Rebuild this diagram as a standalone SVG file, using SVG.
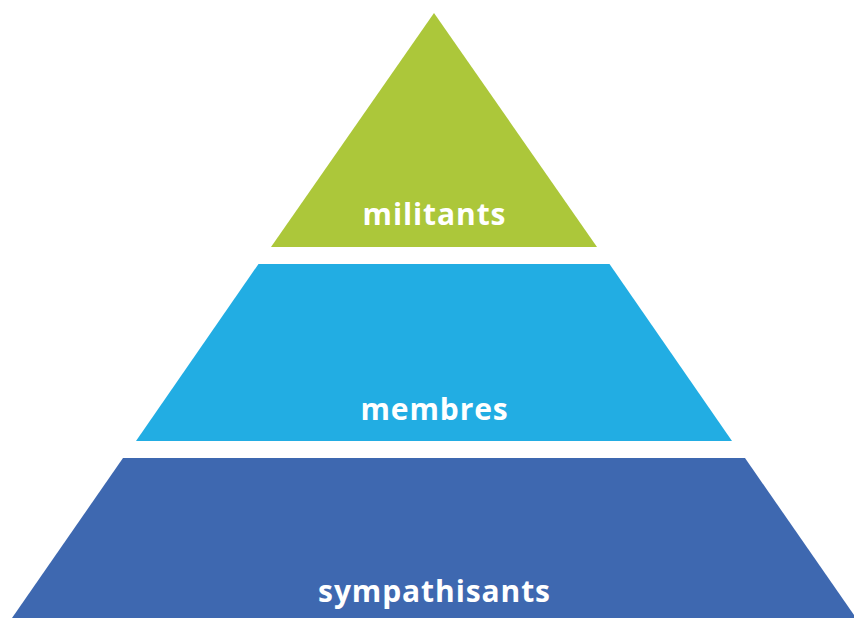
<svg xmlns="http://www.w3.org/2000/svg" width="854" height="618" viewBox="0 0 854 618">
<style>
.lbl{font-family:"Open Sans","Liberation Sans",sans-serif;font-weight:bold;font-size:30px;letter-spacing:0.9px;fill:#ffffff;text-anchor:middle}
</style>
<rect width="854" height="618" fill="#ffffff"/>
<g id="militants">
<polygon points="434,13 597,247 271,247" fill="#acc73a"/>
<text class="lbl" x="434.5" y="225">militants</text>
</g>
<g id="membres">
<polygon points="258.5,264 609.5,264 732,441 136,441" fill="#22ade3"/>
<text class="lbl" x="434.5" y="420">membres</text>
</g>
<g id="sympathisants">
<polygon points="123,458 745,458 856,618 12,618" fill="#3e68b0"/>
<text class="lbl" x="434.5" y="602">sympathisants</text>
</g>
<g id="connectors"/>
</svg>
